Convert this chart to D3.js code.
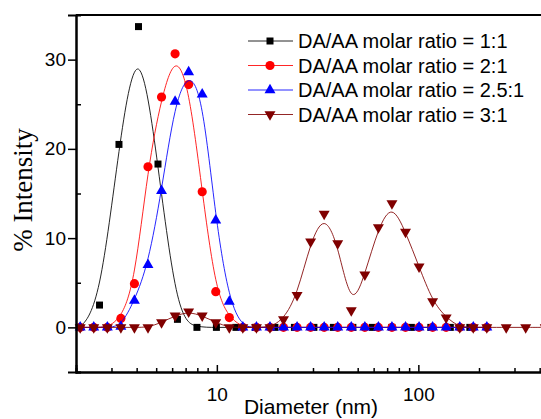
<!DOCTYPE html>
<html>
<head>
<meta charset="utf-8">
<script src="https://cdn.jsdelivr.net/npm/d3@7"></script>
<style>
  html, body { margin: 0; padding: 0; background: #fff; }
  svg { display: block; }
</style>
</head>
<body>
<svg id="chart" width="541" height="419"></svg>
<script>
// ---------------- DATA ----------------
const seriesNames = [
  "DA/AA molar ratio = 1:1",
  "DA/AA molar ratio = 2:1",
  "DA/AA molar ratio = 2.5:1",
  "DA/AA molar ratio = 3:1"
];

// diameters (nm) for the 1:1 sample
const diam11 = [2.094, 2.617, 3.268, 4.085, 5.104, 6.375, 7.966, 9.95, 12.44, 15.54,
  19.42, 24.26, 30.31, 37.87, 47.32, 59.13, 73.88, 92.32, 115.3, 144.1, 180.1];
const int11 = [0, 2.5, 20.5, 33.7, 18.3, 0.9, 0, 0, 0, 0,
  0, 0, 0, 0, 0, 0, 0, 0, 0, 0, 0];

// diameters (nm) shared by 2:1 and 2.5:1 samples
const diamB = [2.098, 2.450, 2.861, 3.340, 3.899, 4.553, 5.315, 6.206, 7.245, 8.459,
  9.875, 11.53, 13.46, 15.72, 18.35, 21.42, 25.01, 29.20, 34.09, 39.80,
  46.47, 54.26, 63.34, 73.96, 86.36, 100.8, 117.7, 137.4, 160.5, 187.3, 218.7];
const int21 = [0, 0, 0, 1.0, 4.9, 18.0, 25.8, 30.65, 27.2, 15.2,
  4.0, 1.1, 0, 0, 0, 0, 0, 0, 0, 0,
  0, 0, 0, 0, 0, 0, 0, 0, 0, 0, 0];
const int251 = [0, 0, 0, 0.1, 3.0, 7.0, 15.3, 25.3, 28.6, 26.1,
  12.0, 2.9, 0, 0, 0, 0, 0, 0, 0, 0,
  0, 0, 0, 0, 0, 0, 0, 0, 0, 0, 0];

// diameters (nm) for the 3:1 sample
const diam31 = [2.098, 2.450, 2.861, 3.340, 3.899, 4.553, 5.315, 6.206, 7.245, 8.459,
  9.875, 11.53, 13.46, 15.72, 18.35, 21.42, 25.01, 29.20, 34.09, 39.80,
  46.47, 54.26, 63.34, 73.96, 86.36, 100.8, 117.7, 137.4, 160.5, 187.3, 218.7,
  272.9, 341.0, 426.1];
const int31 = [0, 0, 0, 0, 0, 0, 0.55, 1.3, 1.75, 1.3,
  0.55, 0, 0, 0, 0, 0.9, 3.6, 9.6, 12.7, 9.4,
  1.9, 5.9, 11.2, 13.9, 10.7, 6.8, 2.9, 1.1, 0, 0, 0,
  0, 0, 0];

const xMajorTicks = [10, 100];
const xMinorTicks = [3, 4, 5, 6, 7, 8, 9, 20, 30, 40, 50, 60, 70, 80, 90, 200, 300, 400];
const yMajorTicks = [0, 10, 20, 30];
const yMinorTicks = [-5, 5, 15, 25];
const xTitle = "Diameter (nm)";
const yTitle = "% Intensity";

// ---------------- CHART ----------------
const colors = ["#000000", "#ff0000", "#0000ff", "#800000"];
const symbols = ["square", "circle", "triUp", "triDown"];

const svg = d3.select("#chart");
const L = 76, R = 546, T = 15, B = 372;
const x = d3.scaleLog().domain([2, 430]).range([L, R]);
const y = d3.scaleLinear().domain([-5, 35]).range([B, T]);

const series = [
  { xs: diam11, ys: int11 },
  { xs: diamB, ys: int21 },
  { xs: diamB, ys: int251 },
  { xs: diam31, ys: int31 }
].map((s, i) => ({
  name: seriesNames[i], color: colors[i], sym: symbols[i],
  pts: s.xs.map((d, j) => [d, s.ys[j]])
}));

const line = d3.line().x(d => x(d[0])).y(d => y(d[1])).curve(d3.curveBasis);

function symPath(kind) {
  if (kind === "square") return d3.symbol().type(d3.symbolSquare).size(49)();
  if (kind === "circle") return d3.symbol().type(d3.symbolCircle).size(66)();
  return d3.symbol().type(d3.symbolTriangle).size(52)();
}
function symTransform(kind, px, py) {
  return kind === "triDown" ? `translate(${px},${py}) rotate(180)` : `translate(${px},${py})`;
}

const plot = svg.append("g");

series.forEach(s => {
  const g = plot.append("g");
  g.append("path").datum(s.pts)
    .attr("d", line).attr("fill", "none")
    .attr("stroke", s.color).attr("stroke-width", 1).attr("stroke-opacity", 0.85);
  g.selectAll("path.m").data(s.pts).enter().append("path")
    .attr("class", "m")
    .attr("d", symPath(s.sym))
    .attr("transform", d => symTransform(s.sym, x(d[0]), y(d[1])))
    .attr("fill", s.color);
});

// axes
const axisFont = "Liberation Sans, Arial, sans-serif";
const gx = svg.append("g").attr("transform", `translate(0,${B})`)
  .call(d3.axisBottom(x).tickValues(xMajorTicks).tickSize(-7).tickFormat(d3.format("d")));
gx.selectAll("text").attr("y", 16).attr("font-size", 19).attr("font-family", axisFont).attr("fill", "#000");
const gxm = svg.append("g").attr("transform", `translate(0,${B})`)
  .call(d3.axisBottom(x).tickValues(xMinorTicks).tickSize(-4).tickFormat(""));

const gy = svg.append("g").attr("transform", `translate(${L},0)`)
  .call(d3.axisLeft(y).tickValues(yMajorTicks).tickSize(8).tickPadding(2));
gy.selectAll("text").attr("font-size", 19).attr("font-family", axisFont).attr("fill", "#000");
const gym = svg.append("g").attr("transform", `translate(${L},0)`)
  .call(d3.axisLeft(y).tickValues(yMinorTicks).tickSize(-5).tickFormat(""));

[gx, gxm, gy, gym].forEach(g => {
  g.select(".domain").attr("stroke", "#000").attr("stroke-width", 2);
  g.selectAll(".tick line").attr("stroke", "#000").attr("stroke-width", 1.5);
});
// top frame line
svg.append("line").attr("x1", L).attr("x2", R).attr("y1", T).attr("y2", T)
  .attr("stroke", "#000").attr("stroke-width", 2);

// titles
svg.append("text").attr("x", 311).attr("y", 414).attr("text-anchor", "middle")
  .attr("font-family", axisFont).attr("font-size", 21).text(xTitle);
svg.append("text").attr("transform", "translate(32,190) rotate(-90)")
  .attr("text-anchor", "middle")
  .attr("font-family", "Liberation Serif, Times New Roman, serif").attr("font-size", 27).text(yTitle);

// legend
const lg = svg.append("g");
series.forEach((s, i) => {
  const cy = 41 + i * 24.5;
  lg.append("line").attr("x1", 248).attr("x2", 293).attr("y1", cy).attr("y2", cy)
    .attr("stroke", s.color).attr("stroke-width", 1).attr("stroke-opacity", 0.85);
  lg.append("path").attr("d", symPath(s.sym)).attr("transform", symTransform(s.sym, 270, cy))
    .attr("fill", s.color);
  lg.append("text").attr("x", 298).attr("y", cy).attr("dy", "0.35em")
    .attr("font-family", axisFont).attr("font-size", 20).text(s.name);
});
</script>
</body>
</html>
